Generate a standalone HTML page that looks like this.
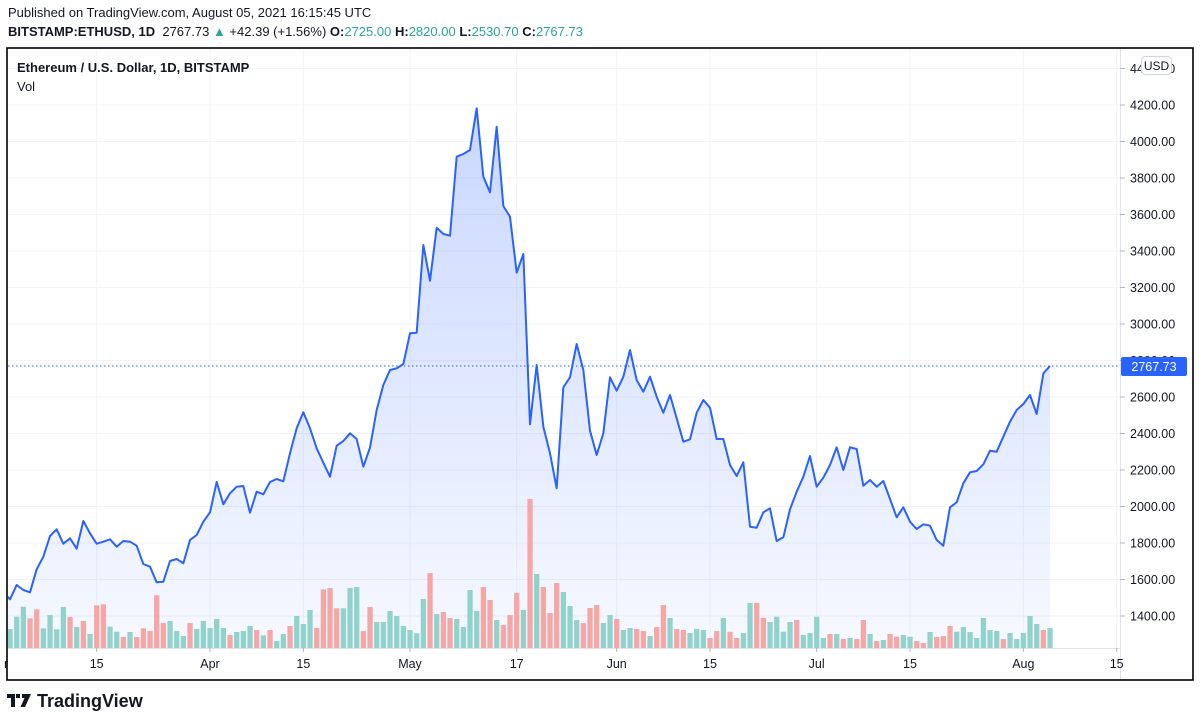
<!DOCTYPE html>
<html><head><meta charset="utf-8">
<style>
html,body{margin:0;padding:0;background:#fff;width:1200px;height:721px;overflow:hidden;font-family:"Liberation Sans",sans-serif;color:#131722}
.h1{position:absolute;left:8px;top:5px;font-size:13px}
.h2{position:absolute;left:8px;top:24px;font-size:13px}
.h2 b{font-weight:bold}
.g{color:#26a69a}
svg{position:absolute;left:0;top:0}
</style></head><body>
<div class="h1">Published on TradingView.com, August 05, 2021 16:15:45 UTC</div>
<div class="h2"><b>BITSTAMP:ETHUSD, 1D</b>&nbsp; 2767.73 <span class="g">▲</span> +42.39 (+1.56%) <b>O:</b><span class="g">2725.00</span> <b>H:</b><span class="g">2820.00</span> <b>L:</b><span class="g">2530.70</span> <b>C:</b><span class="g">2767.73</span></div>
<svg id="s" width="1200" height="721" xmlns="http://www.w3.org/2000/svg"></svg>
<script>
var L=[592,599.3,585,590,592.3,569.3,556.7,536,529.3,543.7,538.3,548.7,521,533.3,543.7,541.7,539.3,546.7,541,541.7,545.7,564,566.7,582.3,581.7,561,559,563.3,540,535,521.7,512.3,482,504.3,493.3,486.7,486,512.7,491.7,494.3,482,479,481.3,453.3,428.3,412.3,428.3,448.3,462.7,476.7,445.7,441,433.3,439,466.7,447.7,410,385,370,368.3,364,333.3,332.7,245,280.7,227.7,234,235.7,156.7,154,150,108.3,176.7,192.3,126.7,206,216.7,272.7,254,424.3,365,426.7,453.3,488.3,387.3,377.3,344,370,430.7,455,433.3,377.3,390.7,376.7,350,380,391.7,376.7,396.7,412.7,395,418.3,441.7,439.3,412.7,400,407.7,439,439,465,476,462.3,526.7,527.7,512.3,508.3,541,537.3,509.3,491.7,476.7,456,486.7,477.7,465,447.3,470,447.3,449,485.7,480,486.7,481,499,517.3,507.3,521.7,529,524.3,525.7,540,545.7,507.3,502.3,483.3,472.3,471,464.3,450.7,451.7,436.7,421.7,410,404,395,414,373.3,366];
var V=[628,629,616.7,606.7,618.3,609.3,628.3,615,629.3,607,617,627,621,634,605.3,604.3,626.7,631.7,637,632,637,628.3,631,595.3,623,621,631,636,623,629,621,628,619,628,635,632,631,626,630,635.3,630,641,634,626,616,624,610,628,589.3,588,608.3,608.3,588,587,631,607,622,622,611,616,626,630,633.3,599,573,614,612,618,619,627,590,611,587,600,620,625,615,593,610,499,574,587,613,583,592,606,620,623,608,605,623,615,619,630,628,629,631,636,627,605,618,629,630,633,629,630,638,631,618,631.7,638,633,603,603,618,622,616.7,631.7,622,620,635,633,616.7,638,634,634,639,638,639,620,634,641,640,634,636.7,635,636.7,641,643,632,637,636,626,631.7,627,632,638,618,630,631,639,633,639,633,616,624,630,628];
var C="rgggrrggggrgrgrrggrgrrrrrgggrgggggrgggrgrggrgggrrrrgggrrggggggggrgrrggggrrgrrrgrgrrrgggrrrggrggrrgrrgrrgggrrgrrggrrggggrggggrgrgrrgrgrrggrrgrrrgggggggrgggggrgg";
var s=document.getElementById('s'),h='';
function X(k){return 3.333+6.6667*k}
function Y(p){return 105+(4200-p)/200*36.5}
h+='<defs><linearGradient id="gr" x1="0" y1="0" x2="0" y2="1"><stop offset="0" stop-color="#2962ff" stop-opacity="0.25"/><stop offset="1" stop-color="#2962ff" stop-opacity="0.04"/></linearGradient><clipPath id="cp"><rect x="8" y="49" width="1112" height="599"/></clipPath></defs>';
// grid
for(var p=1400;p<=4400;p+=200){var y=Y(p);h+='<line x1="8" x2="1120" y1="'+y+'" y2="'+y+'" stroke="#f0f3fa" stroke-width="1"/>';}
var T=[[14,'15'],[31,'Apr'],[45,'15'],[61,'May'],[77,'17'],[92,'Jun'],[106,'15'],[122,'Jul'],[136,'15'],[153,'Aug'],[167,'15']];
T.forEach(function(t){var x=X(t[0]);h+='<line x1="'+x+'" x2="'+x+'" y1="49" y2="648" stroke="#f0f3fa"/>';});
h+='<g clip-path="url(#cp)">';
// area
var d='M'+X(0)+' '+L[0];for(var k=1;k<L.length;k++)d+=' L'+X(k).toFixed(2)+' '+L[k];
h+='<path d="'+d+' L'+X(157)+' 648 L'+X(0)+' 648Z" fill="url(#gr)"/>';
// volume
for(var k=0;k<V.length;k++){var c=C[k]=='r'?'#f5a6a5':'#92d2cc';h+='<rect x="'+(X(k)-2.6).toFixed(2)+'" y="'+V[k]+'" width="5.3" height="'+(648-V[k]).toFixed(1)+'" fill="'+c+'"/>';}
h+='<path d="'+d+'" fill="none" stroke="#2962ff" stroke-width="2" stroke-linejoin="round"/>';
h+='</g>';
h+='<line x1="8" x2="1120" y1="366" y2="366" stroke="#2962ff" stroke-width="1" stroke-dasharray="1.5,2.5"/>';
// axes
h+='<line x1="1120.5" x2="1120.5" y1="48" y2="680" stroke="#e0e3eb"/>';
h+='<line x1="7" x2="1120" y1="648.5" y2="648.5" stroke="#e0e3eb"/>';
for(var p=1400;p<=4400;p+=200){var y=Y(p);h+='<line x1="1120" x2="1125" y1="'+y+'" y2="'+y+'" stroke="#b2b5be"/><text x="1130" y="'+(y+4.5)+'" font-size="12.5" fill="#131722" font-family="Liberation Sans">'+p+'.00</text>';}
T.forEach(function(t){var x=X(t[0]);h+='<line x1="'+x+'" x2="'+x+'" y1="648" y2="652" stroke="#b2b5be"/><text x="'+x+'" y="668" text-anchor="middle" font-size="12.5" fill="#131722" font-family="Liberation Sans">'+t[1]+'</text>';});
h+='<text x="4" y="668" font-size="12.5" fill="#131722" font-family="Liberation Sans">r</text>';
// last price
h+='<rect x="1121" y="357" width="66" height="19" rx="2" fill="#2962ff"/><text x="1154" y="371" text-anchor="middle" font-size="12.5" fill="#fff" font-family="Liberation Sans">2767.73</text>';
// USD
h+='<rect x="1141.5" y="56.5" width="30" height="18" rx="4" fill="#fff" stroke="#d1d4dc"/><text x="1156.5" y="70" text-anchor="middle" font-size="12" fill="#131722" font-family="Liberation Sans">USD</text>';
// frame
h+='<rect x="7" y="48" width="1186" height="632" fill="none" stroke="#000" stroke-width="1.6"/>';
h+='<text x="17" y="72" font-size="13" font-weight="bold" fill="#131722" font-family="Liberation Sans">Ethereum / U.S. Dollar, 1D, BITSTAMP</text>';
h+='<text x="17" y="91" font-size="13" fill="#131722" font-family="Liberation Sans">Vol</text>';
// logo
h+='<path d="M7 694h8v13h-4v-9h-4z M16 694h4v4h-4z M22 694h9l-6 13h-4.5l4-9h-2.5z" fill="#131722"/>';
h+='<text x="37" y="707" font-size="18" font-weight="bold" fill="#131722" font-family="Liberation Sans">TradingView</text>';
s.innerHTML=h;
</script>
</body></html>
